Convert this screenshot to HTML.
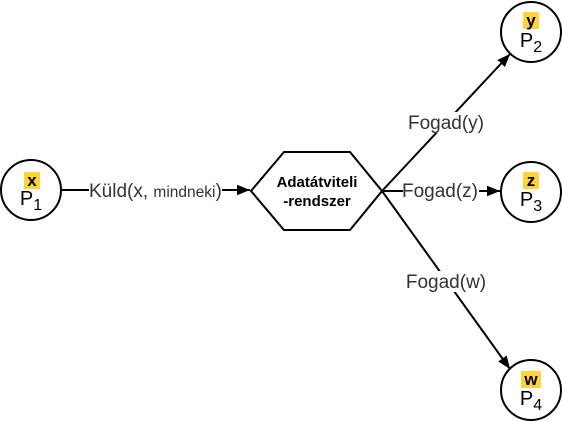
<!DOCTYPE html>
<html><head><style>body{margin:0;background:#fff}svg{display:block}text{font-family:"Liberation Sans",Arial,sans-serif}</style></head>
<body>
<svg width="562" height="422" viewBox="0 0 562 422" xmlns="http://www.w3.org/2000/svg">
<defs><marker id="a" viewBox="0 0 10 10" refX="10" refY="5" markerWidth="13" markerHeight="13" markerUnits="userSpaceOnUse" orient="auto"><path d="M0,1 L10,5 L0,9 Z" fill="#000"/></marker></defs>
<g stroke="#000" stroke-width="2" fill="none">
<line x1="61" y1="190" x2="250" y2="190" marker-end="url(#a)"/>
<line x1="382" y1="191" x2="510" y2="54" marker-end="url(#a)"/>
<line x1="382" y1="191" x2="500" y2="191" marker-end="url(#a)"/>
<line x1="382" y1="191" x2="510" y2="369" marker-end="url(#a)"/>
<polygon points="251,191 284,152 350,152 382,191 350,230 284,230" fill="#fff"/>
<circle cx="31" cy="190" r="30" fill="#fff"/>
<circle cx="531" cy="32" r="30" fill="#fff"/>
<circle cx="531" cy="192" r="30" fill="#fff"/>
<circle cx="531" cy="390" r="30" fill="#fff"/>
</g>
<g fill="#FFD43B">
<rect x="24" y="172" width="16" height="17"/>
<rect x="523" y="12" width="16" height="17"/>
<rect x="523" y="172" width="16" height="17"/>
<rect x="521" y="371" width="20" height="17"/>
</g>
<g font-size="17" font-weight="bold" text-anchor="middle">
<text x="32" y="186">x</text>
<text x="531" y="26">y</text>
<text x="531" y="186">z</text>
<text x="531" y="385">w</text>
</g>
<g font-size="20" text-anchor="middle">
<text x="31" y="205">P<tspan font-size="16" dy="5">1</tspan></text>
<text x="531" y="47">P<tspan font-size="16" dy="5">2</tspan></text>
<text x="531" y="206">P<tspan font-size="16" dy="5">3</tspan></text>
<text x="531" y="405">P<tspan font-size="16" dy="5">4</tspan></text>
</g>
<g font-size="15" font-weight="bold" text-anchor="middle">
<text x="317" y="187">Adatátviteli</text>
<text x="317" y="206">-rendszer</text>
</g>
<g fill="#fff">
<rect x="89" y="180" width="133" height="21"/>
<rect x="407" y="112" width="78" height="21"/>
<rect x="403" y="180" width="76" height="21"/>
<rect x="404" y="271" width="84" height="21"/>
</g>
<g font-size="19" fill="#333">
<text x="89" y="197">Küld(x, <tspan font-size="15.5">mindneki</tspan>)</text>
<text x="446" y="129" text-anchor="middle">Fogad(y)</text>
<text x="440" y="197" text-anchor="middle">Fogad(z)</text>
<text x="446" y="288" text-anchor="middle">Fogad(w)</text>
</g>
</svg>
</body></html>
